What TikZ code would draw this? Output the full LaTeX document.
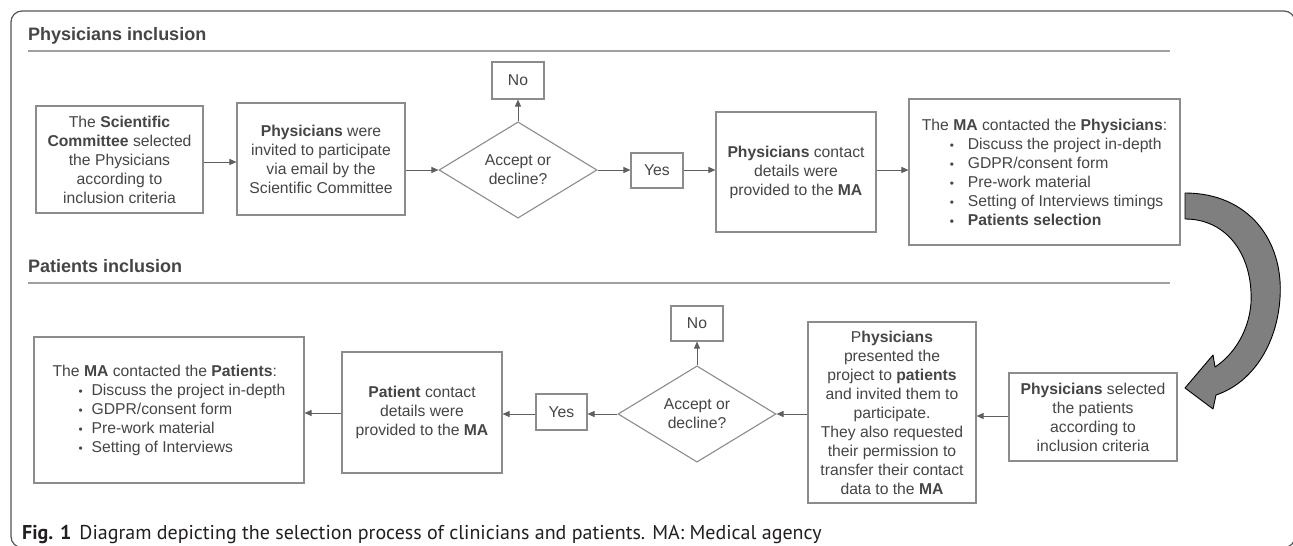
\documentclass[tikz,border=0pt]{standalone}
\usepackage{fontspec}
\usepackage{graphicx}
\setmainfont{Liberation Sans}
\newfontfamily\capfont{PT Sans}
\usetikzlibrary{arrows.meta,shapes.geometric}
\definecolor{boxgray}{HTML}{8C8C8C}
\definecolor{txtgray}{HTML}{454545}
\definecolor{linegray}{HTML}{A0A0A0}
\definecolor{arrgray}{HTML}{5F5F5F}
\definecolor{framegray}{HTML}{555555}
\definecolor{bigarrow}{HTML}{7F7F7F}
\definecolor{capcol}{HTML}{231F20}
\newcommand{\bulA}[1]{\hspace*{28pt}\makebox[18pt][l]{\scalebox{0.75}{\textbullet}}#1}
\newcommand{\bulB}[1]{\hspace*{26pt}\makebox[13pt][l]{\scalebox{0.75}{\textbullet}}#1}
\begin{document}
\begin{tikzpicture}[x=1pt,y=-1pt,
  box/.style={draw=boxgray, line width=1.1pt, text=txtgray, align=center, inner sep=0pt,
    font=\fontsize{15.7}{19}\selectfont},
  dec/.style={diamond, draw=boxgray, line width=1.1pt, text=txtgray, align=center, inner sep=0pt,
    font=\fontsize{15.7}{19}\selectfont},
  conn/.style={draw=arrgray, line width=1pt, -{Triangle[length=7pt,width=6pt]}},
  heading/.style={anchor=base west, inner sep=0pt, text=txtgray, font=\fontsize{18}{20}\selectfont\bfseries},
  rule/.style={draw=linegray, line width=1.2pt}
]
\useasboundingbox (0,0) rectangle (1293,546);
\clip (0,0) rectangle (1293,546);
\fill[white] (0,0) rectangle (1293,546);
% frame
\draw[framegray, line width=1.2pt, rounded corners=11pt] (11,11) rectangle (1295,547.5);

% headings
\node[heading] (h1) at (28,40) {Physicians inclusion};
\draw[rule] (28,51) -- (1170,51);
\node[heading] (h2) at (28,272) {Patients inclusion};
\draw[rule] (28,283) -- (1170,283);

% top row
\node[box, minimum width=167pt, minimum height=107pt] (b1) at (119.5,159.5)
  {The \textbf{Scientific}\\\textbf{Committee} selected\\the Physicians\\according to\\inclusion criteria};
\node[box, minimum width=168pt, minimum height=112pt] (b2) at (321,159)
  {\textbf{Physicians} were\\invited to participate\\via email by the\\Scientific Committee};
\node[dec, minimum width=158pt, minimum height=77pt] (d1) at (518,170) {Accept or\\decline?};
\node[box, minimum width=52pt, minimum height=37pt] (n1) at (518,80.5) {No};
\node[box, minimum width=52pt, minimum height=35pt] (y1) at (657,170.5) {Yes};
\node[box, minimum width=160pt, minimum height=120pt] (b3) at (796,172)
  {\textbf{Physicians} contact\\details were\\provided to the \textbf{MA}};
\node[box, align=left, minimum width=271pt, minimum height=146pt] (b4) at (1044.5,172)
  {The \textbf{MA} contacted the \textbf{Physicians}:\\
   \bulA{Discuss the project in-depth}\\
   \bulA{GDPR/consent form}\\
   \bulA{Pre-work material}\\
   \bulA{Setting of Interviews timings}\\
   \textbf{\bulA{Patients selection}}};

% bottom row
\node[box, minimum width=168pt, minimum height=88pt] (b8) at (1093,417)
  {\textbf{Physicians} selected\\the patients\\according to\\inclusion criteria};
\node[box, minimum width=168pt, minimum height=181pt] (b7) at (892,412.5)
  {P\textbf{hysicians}\\presented the\\project to \textbf{patients}\\and invited them to\\participate.\\They also requested\\their permission to\\transfer their contact\\data to the \textbf{MA}};
\node[dec, minimum width=158pt, minimum height=76pt] (d2) at (697,414) {Accept or\\decline?};
\node[box, minimum width=52pt, minimum height=35pt] (n2) at (697,323.5) {No};
\node[box, minimum width=51pt, minimum height=36pt] (y2) at (561.5,412) {Yes};
\node[box, minimum width=160pt, minimum height=121pt] (b6) at (422,412.5)
  {\textbf{Patient} contact\\details were\\provided to the \textbf{MA}};
\node[box, align=left, minimum width=270pt, minimum height=146pt] (b5) at (169,410)
  {The \textbf{MA} contacted the \textbf{Patients}:\\
   \bulB{Discuss the project in-depth}\\
   \bulB{GDPR/consent form}\\
   \bulB{Pre-work material}\\
   \bulB{Setting of Interviews}};

% connectors top
\draw[conn] ([yshift=-2.5pt]b1.east) -- ([yshift=-2.5pt]b1.east -| b2.west);
\draw[conn] (b2.east |- d1.west) -- (d1.west);
\draw[conn] (d1.east) -- (y1.west |- d1.east);
\draw[conn] (y1.east |- d1.east) -- (b3.west |- d1.east);
\draw[conn] (b3.east |- d1.east) -- (b4.west |- d1.east);
\draw[conn] (d1.north) -- (n1.south);

% connectors bottom
\draw[conn] (b8.west |- 0,416) -- (b7.east |- 0,416);
\draw[conn] (b7.west |- d2.east) -- (d2.east);
\draw[conn] (d2.west) -- (y2.east |- d2.west);
\draw[conn] (y2.west |- d2.west) -- (b6.east |- d2.west);
\draw[conn] (b6.west |- 0,413) -- (b5.east |- 0,413);
\draw[conn] (d2.north) -- (n2.south);

% big curved arrow from b4 to b8
\filldraw[fill=bigarrow, draw=black, line width=0.9pt, line join=round]
  (1185,193) .. controls (1248,193) and (1284,240) .. (1280,298)
  .. controls (1277,345) and (1252,383) .. (1216,395)
  -- (1213,409) -- (1185,388) -- (1213,355) -- (1215,367)
  .. controls (1238,352) and (1253,322) .. (1251,292)
  .. controls (1249,250) and (1224,219) .. (1185,219) -- cycle;

% caption
\node[anchor=base west, inner sep=0pt, text=capcol, font=\capfont\fontsize{20}{22}\selectfont] (cap) at (22,539)
  {\textbf{Fig. 1}\hspace{8pt}Diagram depicting the selection process of clinicians and patients. MA: Medical agency};
\end{tikzpicture}
\end{document}
